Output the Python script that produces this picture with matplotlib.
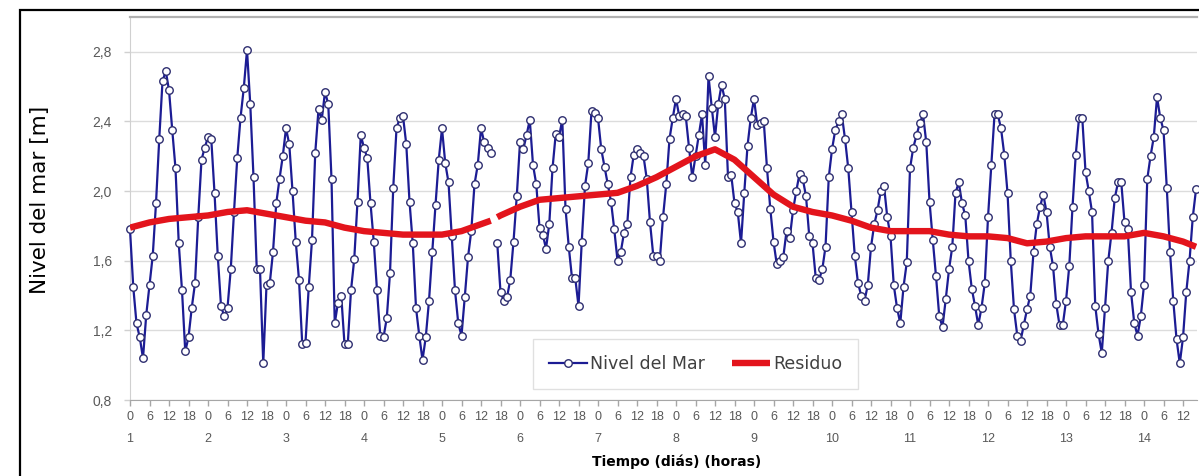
import matplotlib
matplotlib.use("Agg")
import numpy as np
import matplotlib.pyplot as plt
from matplotlib.patches import Rectangle

nan = float("nan")

# Nivel del mar, un valor por hora (dia 1, hora 0 en adelante)
dia1 = [1.78, 1.45, 1.24, 1.16, 1.04, 1.29, 1.46, 1.63, 1.93, 2.30, 2.63, 2.69,
        2.58, 2.35, 2.13, 1.70, 1.43, 1.08, 1.16, 1.33, 1.47, 1.85, 2.18, 2.25]
dia2 = [2.31, 2.30, 1.99, 1.63, 1.34, 1.28, 1.33, 1.55, 1.88, 2.19, 2.42, 2.59,
        2.81, 2.50, 2.08, 1.55, 1.55, 1.01, 1.46, 1.47, 1.65, 1.93, 2.07, 2.20]
dia3 = [2.36, 2.27, 2.00, 1.71, 1.49, 1.12, 1.13, 1.45, 1.72, 2.22, 2.47, 2.41,
        2.57, 2.50, 2.07, 1.24, 1.36, 1.40, 1.12, 1.12, 1.43, 1.61, 1.94, 2.32]
dia4 = [2.25, 2.19, 1.93, 1.71, 1.43, 1.17, 1.16, 1.27, 1.53, 2.02, 2.36, 2.42,
        2.43, 2.27, 1.94, 1.70, 1.33, 1.17, 1.03, 1.16, 1.37, 1.65, 1.92, 2.18]
dia5 = [2.36, 2.16, 2.05, 1.74, 1.43, 1.24, 1.17, 1.39, 1.62, 1.77, 2.04, 2.15,
        2.36, 2.28, 2.25, 2.22, nan, 1.70, 1.42, 1.37, 1.39, 1.49, 1.71, 1.97]
dia6 = [2.28, 2.24, 2.32, 2.41, 2.15, 2.04, 1.79, 1.75, 1.67, 1.81, 2.13, 2.33,
        2.31, 2.41, 1.90, 1.68, 1.50, 1.50, 1.34, 1.71, 2.03, 2.16, 2.46, 2.45]
dia7 = [2.42, 2.24, 2.14, 2.04, 1.94, 1.78, 1.60, 1.65, 1.76, 1.81, 2.08, 2.21,
        2.24, 2.22, 2.20, 2.07, 1.82, 1.63, 1.63, 1.60, 1.85, 2.04, 2.30, 2.42]
dia8 = [2.53, 2.43, 2.44, 2.43, 2.25, 2.08, 2.20, 2.32, 2.44, 2.15, 2.66, 2.48,
        2.31, 2.50, 2.61, 2.53, 2.08, 2.09, 1.93, 1.88, 1.70, 1.99, 2.26, 2.42]
dia9 = [2.53, 2.38, 2.39, 2.40, 2.13, 1.90, 1.71, 1.58, 1.60, 1.62, 1.77, 1.73,
        1.89, 2.00, 2.10, 2.07, 1.97, 1.74, 1.70, 1.50, 1.49, 1.55, 1.68, 2.08]
dia10 = [2.24, 2.35, 2.40, 2.44, 2.30, 2.13, 1.88, 1.63, 1.47, 1.40, 1.37, 1.46,
         1.68, 1.81, 1.89, 2.00, 2.03, 1.85, 1.74, 1.46, 1.33, 1.24, 1.45, 1.59]
dia11 = [2.13, 2.25, 2.32, 2.39, 2.44, 2.28, 1.94, 1.72, 1.51, 1.28, 1.22, 1.38,
         1.55, 1.68, 1.99, 2.05, 1.93, 1.86, 1.60, 1.44, 1.34, 1.23, 1.33, 1.47]
dia12 = [1.85, 2.15, 2.44, 2.44, 2.36, 2.21, 1.99, 1.60, 1.32, 1.17, 1.14, 1.23,
         1.32, 1.40, 1.65, 1.81, 1.91, 1.98, 1.88, 1.68, 1.57, 1.35, 1.23, 1.23]
dia13 = [1.37, 1.57, 1.91, 2.21, 2.42, 2.42, 2.11, 2.00, 1.88, 1.34, 1.18, 1.07,
         1.33, 1.60, 1.76, 1.96, 2.05, 2.05, 1.82, 1.78, 1.42, 1.24, 1.17, 1.28]
dia14 = [1.46, 2.07, 2.20, 2.31, 2.54, 2.42, 2.35, 2.02, 1.65, 1.37, 1.15, 1.01,
         1.16, 1.42, 1.60, 1.85, 2.01]

nivel = (dia1 + dia2 + dia3 + dia4 + dia5 + dia6 + dia7 + dia8 + dia9 + dia10
         + dia11 + dia12 + dia13 + dia14)

# Residuo (leido cada 6 horas, con el hueco de datos del dia 5)
res_horas = [0, 6, 12, 18, 24, 30, 36, 42, 48, 54, 60, 66, 72, 78, 84, 90, 96,
             102, 108, 111, 112, 113, 114, 120, 126, 132, 138, 144, 150, 156, 162,
             168, 174, 180, 186, 192, 198, 204, 210, 216, 222, 228, 234, 240, 246,
             252, 258, 264, 270, 276, 282, 288, 294, 300, 306, 312, 318, 324, 328]
res_valores = [1.79, 1.82, 1.84, 1.85, 1.86, 1.88, 1.89, 1.87, 1.85, 1.83, 1.82,
               1.79, 1.77, 1.76, 1.75, 1.75, 1.75, 1.77, 1.81, 1.83, nan, 1.85,
               1.86, 1.91, 1.95, 1.96, 1.97, 1.98, 1.99, 2.03, 2.08, 2.14, 2.20,
               2.24, 2.18, 2.08, 1.98, 1.91, 1.88, 1.86, 1.83, 1.79, 1.77, 1.77,
               1.77, 1.75, 1.74, 1.74, 1.73, 1.70, 1.71, 1.73, 1.74, 1.74, 1.74,
               1.76, 1.74, 1.71, 1.68]

y_ticks = [0.8, 1.2, 1.6, 2.0, 2.4, 2.8]
y_tick_labels = ["0,8", "1,2", "1,6", "2,0", "2,4", "2,8"]
horas_dia = [0, 6, 12, 18]
dias = list(range(1, 15))

plt.rcParams['font.family'] = ['DejaVu Sans']

fig = plt.figure(figsize=(11.99, 4.76), dpi=100)
ax = fig.add_axes([130 / 1199, 76 / 476, 1067 / 1199, 383 / 476])

horas = np.arange(len(nivel))
ax.plot(horas, nivel, color='#1c1c94', lw=1.6, marker='o', ms=5.4,
        mfc='white', mec='#2e2e70', mew=1.0, label='Nivel del Mar',
        zorder=3, clip_on=False)
ax.plot(res_horas, res_valores, color='#e3141c', lw=4.6, label='Residuo',
        solid_capstyle='butt', solid_joinstyle='round', zorder=4)

ax.set_xlim(0, 328.3)
ax.set_ylim(0.8, 3.0)
ax.set_yticks(y_ticks)
ax.set_yticklabels(y_tick_labels)

ticks_x = []
labels_x = []
for d in dias:
    for h in horas_dia:
        t = (d - 1) * 24 + h
        if t > len(nivel) - 1:
            break
        ticks_x.append(t)
        labels_x.append("%d\n%d" % (h, d) if h == 0 else "%d" % h)
ax.set_xticks(ticks_x)
ax.set_xticklabels(labels_x, linespacing=2.15)

ax.tick_params(axis='x', length=4, width=1, color='#a6a6a6', pad=4,
               labelsize=9, labelcolor='#595959')
ax.tick_params(axis='y', length=4, width=1, color='#d0d0d0', pad=9,
               labelsize=10, labelcolor='#595959')
for lab in ax.get_xticklabels() + ax.get_yticklabels():
    lab.set_family('Liberation Sans')

ax.grid(axis='y', color='#dcdcdc', lw=1)
ax.set_axisbelow(True)
ax.spines['right'].set_visible(False)
ax.spines['top'].set_color('#b0b0b0')
ax.spines['top'].set_linewidth(1.6)
ax.spines['left'].set_color('#d0d0d0')
ax.spines['bottom'].set_color('#a6a6a6')

leg = ax.legend(loc='center', bbox_to_anchor=(0.530, 0.094), ncol=2,
                frameon=True, fancybox=False, fontsize=12.5, handlelength=2.2,
                columnspacing=1.6, handletextpad=0.15, borderpad=0.9)
leg.get_frame().set_edgecolor('#d9d9d9')
leg.get_frame().set_linewidth(1)
for t in leg.get_texts():
    t.set_color('#404040')

fig.text(40 / 1199, 1 - 200 / 476, "Nivel del mar [m]", rotation=90,
         ha='center', va='center', fontsize=15.5, color='black')
fig.text(677 / 1199, 1 - 462 / 476, "Tiempo (diás) (horas)", ha='center',
         va='center', fontsize=10, fontweight='bold', color='black')

# marco exterior
fig.patches.append(Rectangle((20 / 1199, -0.1), 1.2, 1.1 - 10 / 476,
                             transform=fig.transFigure, fill=False,
                             edgecolor='black', lw=1.6))

fig.savefig("out.png", dpi=100)
